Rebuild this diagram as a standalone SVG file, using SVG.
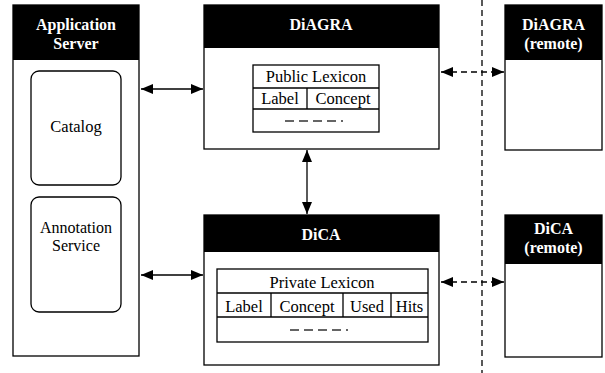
<svg xmlns="http://www.w3.org/2000/svg" width="605" height="373" viewBox="0 0 605 373" font-family="'Liberation Serif', 'Times New Roman', serif">
<style>
.box{fill:#fff;stroke:#000;stroke-width:1.3}
.hdr{fill:#000}
.ht{font-family:'Liberation Serif','Times New Roman',serif;font-weight:bold;font-size:16px;fill:#fff;text-anchor:middle}
.t{font-family:'Liberation Serif','Times New Roman',serif;font-size:16.5px;fill:#000;text-anchor:middle}
.t2{font-family:'Liberation Serif','Times New Roman',serif;font-size:16px;fill:#000;text-anchor:middle}
.ln{stroke:#000;stroke-width:1.3;fill:none}
.dl{stroke:#000;stroke-width:1.3;fill:none;stroke-dasharray:6 4}
.dots{stroke:#333;stroke-width:1.3;stroke-dasharray:9 5}
</style>
<defs>
<marker id="ah" viewBox="0 0 12 10" refX="12" refY="5" markerWidth="12" markerHeight="10" markerUnits="userSpaceOnUse" orient="auto-start-reverse">
<path d="M0,0 L12,5 L0,10 Z" fill="#000"/>
</marker>
</defs>

<g id="app-server">
<rect class="box" x="13" y="5" width="126" height="351"/>
<rect class="hdr" x="13" y="5" width="126" height="55"/>
<text class="ht" x="76" y="30">Application</text>
<text class="ht" x="76" y="48.5">Server</text>
</g>
<g id="catalog">
<rect class="box" x="31" y="71" width="90" height="114" rx="8"/>
<text class="t" x="76" y="132">Catalog</text>
</g>
<g id="annotation-service">
<rect class="box" x="31" y="197" width="90" height="115" rx="8"/>
<text class="t2" x="76" y="232.5">Annotation</text>
<text class="t2" x="76" y="251">Service</text>
</g>

<g id="diagra">
<rect class="box" x="204" y="5" width="235" height="144"/>
<rect class="hdr" x="204" y="5" width="235" height="43"/>
<text class="ht" x="321" y="30">DiAGRA</text>
</g>
<g id="public-lexicon">
<rect class="box" x="253" y="65" width="126" height="67"/>
<line class="ln" x1="253" y1="88" x2="379" y2="88"/>
<line class="ln" x1="253" y1="109" x2="379" y2="109"/>
<line class="ln" x1="307" y1="88" x2="307" y2="109"/>
<text class="t" x="316" y="82">Public Lexicon</text>
<text class="t" x="280" y="104">Label</text>
<text class="t" x="343" y="104">Concept</text>
<line class="dots" x1="285" y1="121" x2="343" y2="121"/>
</g>

<g id="dica">
<rect class="box" x="204" y="215" width="235" height="150"/>
<rect class="hdr" x="204" y="215" width="235" height="37"/>
<text class="ht" x="321" y="240">DiCA</text>
</g>
<g id="private-lexicon">
<rect class="box" x="217" y="269" width="211" height="73"/>
<line class="ln" x1="217" y1="293" x2="428" y2="293"/>
<line class="ln" x1="217" y1="317" x2="428" y2="317"/>
<line class="ln" x1="271" y1="293" x2="271" y2="317"/>
<line class="ln" x1="343" y1="293" x2="343" y2="317"/>
<line class="ln" x1="391" y1="293" x2="391" y2="317"/>
<text class="t" x="322" y="288">Private Lexicon</text>
<text class="t" x="244" y="312">Label</text>
<text class="t" x="307" y="312">Concept</text>
<text class="t" x="367" y="312">Used</text>
<text class="t" x="409.5" y="312">Hits</text>
<line class="dots" x1="290" y1="330" x2="348" y2="330"/>
</g>

<g id="diagra-remote">
<rect class="box" x="505" y="5" width="97" height="145"/>
<rect class="hdr" x="505" y="5" width="97" height="55"/>
<text class="ht" x="553.5" y="30">DiAGRA</text>
<text class="ht" x="553.5" y="48.5">(remote)</text>
</g>
<g id="dica-remote">
<rect class="box" x="505" y="215" width="97" height="142"/>
<rect class="hdr" x="505" y="215" width="97" height="49"/>
<text class="ht" x="553.5" y="234">DiCA</text>
<text class="ht" x="553.5" y="252.5">(remote)</text>
</g>

<g id="connectors">
<line class="dl" x1="482" y1="0" x2="482" y2="373"/>
<line class="ln" x1="141" y1="89" x2="203" y2="89" marker-start="url(#ah)" marker-end="url(#ah)"/>
<line class="ln" x1="141" y1="275" x2="203" y2="275" marker-start="url(#ah)" marker-end="url(#ah)"/>
<line class="ln" x1="307" y1="150" x2="307" y2="214" marker-start="url(#ah)" marker-end="url(#ah)"/>
<line class="dl" x1="441" y1="72" x2="504" y2="72" marker-start="url(#ah)" marker-end="url(#ah)"/>
<line class="dl" x1="441" y1="282" x2="504" y2="282" marker-start="url(#ah)" marker-end="url(#ah)"/>
</g>
</svg>
